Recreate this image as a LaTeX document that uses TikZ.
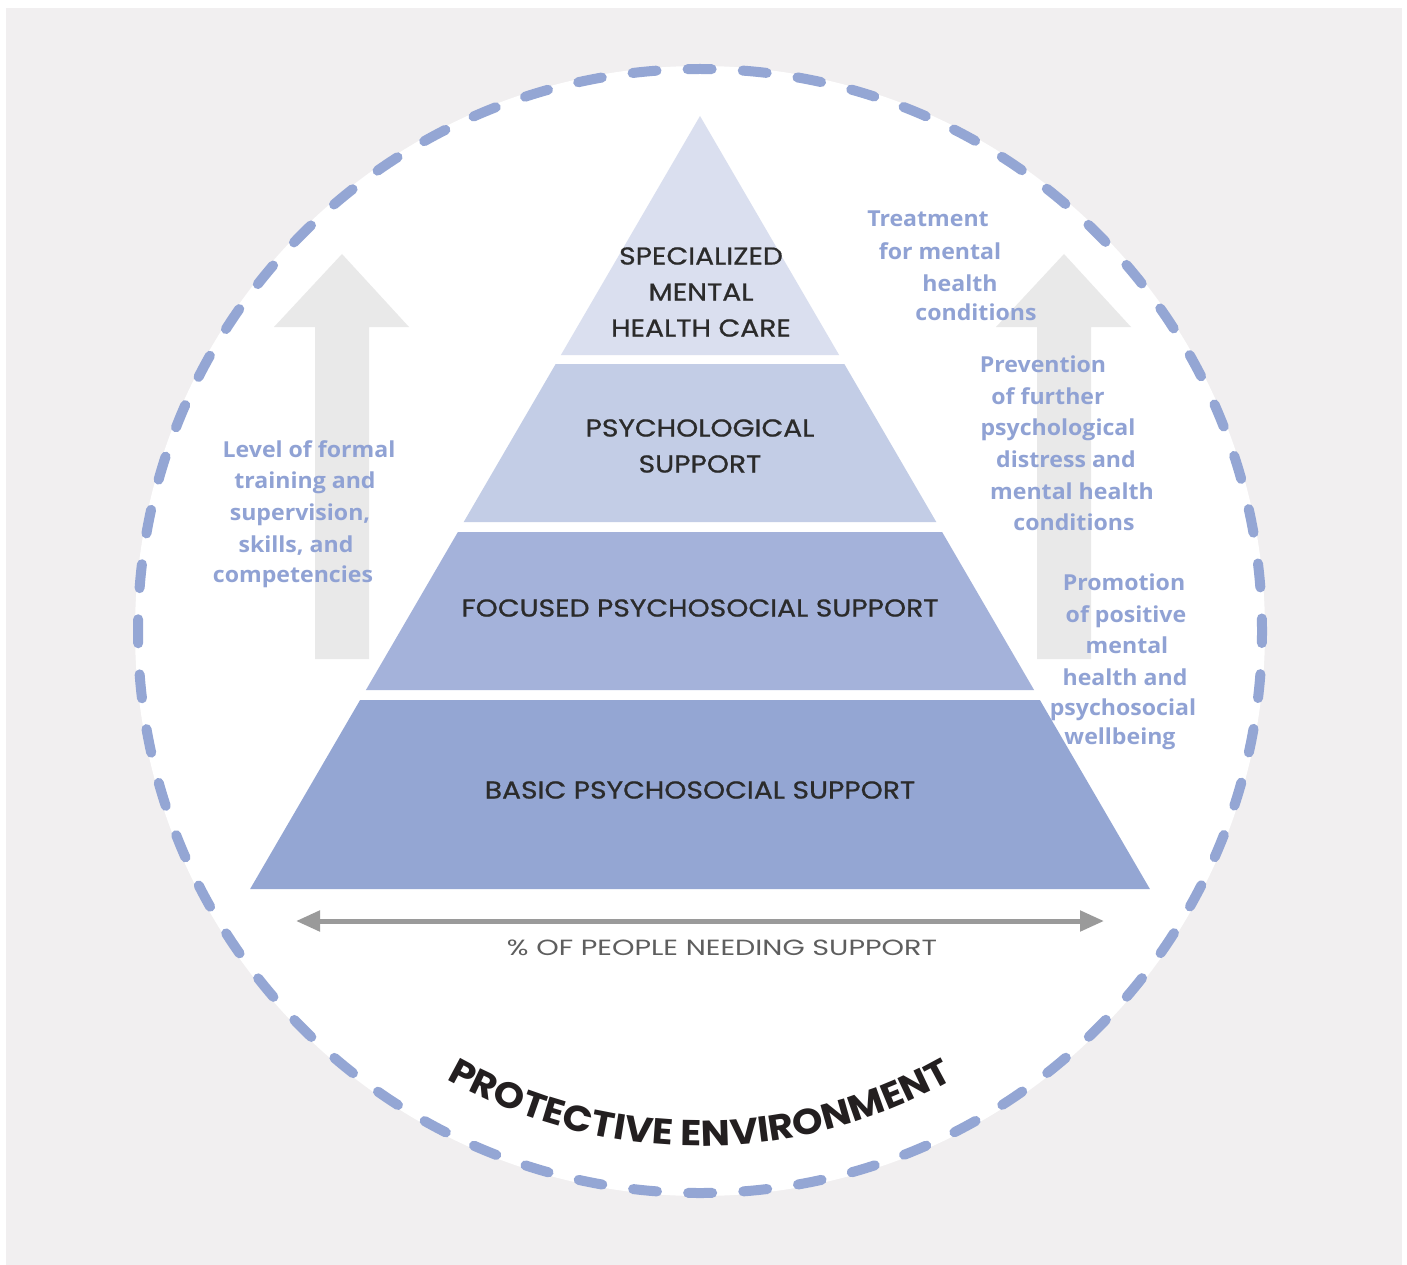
\documentclass[tikz,border=0pt]{standalone}
\usepackage{fontspec}
\setmainfont{Poppins}
\newfontfamily\levelfont{Poppins}[FakeStretch=1.15, FakeBold=0.8]
\newfontfamily\needfont{Poppins}[FakeStretch=1.3]
\newfontfamily\sidefont{Open Sans}[FakeStretch=1.05]
\newfontfamily\protfont{Poppins}[FakeStretch=1.08]
\usetikzlibrary{arrows.meta,decorations.text}

\definecolor{bggrey}{HTML}{F1EFF0}
\definecolor{ringblue}{HTML}{94A6D4}
\definecolor{tierA}{HTML}{DADFEF}
\definecolor{tierB}{HTML}{C3CDE6}
\definecolor{tierC}{HTML}{A4B2DA}
\definecolor{tierD}{HTML}{94A6D3}
\definecolor{sideblue}{HTML}{90A2D4}
\definecolor{arrowgrey}{HTML}{E9E9E9}
\definecolor{axisgrey}{HTML}{9A9A9A}
\definecolor{axistext}{HTML}{5E5E5E}
\definecolor{labeldark}{HTML}{2B2B2B}
\definecolor{protdark}{HTML}{231F20}

\begin{document}
\begin{tikzpicture}[x=1pt, y=-1pt,
  ring/.style={draw=ringblue, line width=10pt, line cap=round, dash pattern=on 24pt off 31.174pt, dash phase=12pt},
  level/.style={font=\levelfont\fontsize{24.5}{36}\selectfont, text=labeldark, align=center, inner sep=0pt},
  side/.style={font=\sidefont\bfseries\fontsize{22}{26}\selectfont, text=sideblue, anchor=base, inner sep=0pt},
  bigarrow/.style={fill=arrowgrey},
  spread/.style={draw=axisgrey, line width=5pt, {Triangle[length=24pt,width=20pt]}-{Triangle[length=24pt,width=20pt]}}]
\useasboundingbox (0,0) rectangle (1407,1265);
\fill[bggrey] (6,8) rectangle (1402,1265);
\coordinate (c) at (700,631);
\fill[white] (c) circle[radius=565];
\draw[ring] (c) circle[radius=562];

% grey arrows behind the text
\foreach \ax in {342,1064}
  \fill[bigarrow, shift={(\ax,0)}] (-27,659) -- (-27,327) -- (-68,327) -- (0,254) -- (67,327) -- (27,327) -- (27,659) -- cycle;

% pyramid, one band per level
\foreach \ya/\yb/\col in {116/355/tierA,364/522/tierB,532/690/tierC,700/889/tierD}
  \fill[\col] ({700-0.582*(\ya-116)},\ya) -- ({700+0.582*(\ya-116)},\ya) -- ({700+0.582*(\yb-116)},\yb) -- ({700-0.582*(\yb-116)},\yb) -- cycle;

\node[level] (spec) at (701,292) {SPECIALIZED\\MENTAL\\HEALTH CARE};
\node[level] (psych) at (700,446) {PSYCHOLOGICAL\\SUPPORT};
\node[level] (focus) at (700,608) {FOCUSED PSYCHOSOCIAL SUPPORT};
\node[level] (basic) at (700,790) {BASIC PSYCHOSOCIAL SUPPORT};

\coordinate (wl) at (296,921);
\coordinate (wr) at (1104,921);
\draw[spread] (wl) -- (wr);
\node[font=\needfont\fontsize{22}{24}\selectfont, text=axistext, inner sep=0pt] (need) at (722,948) {\% OF PEOPLE NEEDING SUPPORT};

\foreach \txt/\x/\y [count=\i] in {Level of formal/309/457, training and/305/488, {supervision,}/300/520, {skills, and}/296/552, competencies/293/582}
  \node[side] (train\i) at (\x,\y) {\txt};
\foreach \txt/\x/\y [count=\i] in {Treatment/928/227, for mental/940/259, health/960/291, conditions/976/320}
  \node[side] (treat\i) at (\x,\y) {\txt};
\foreach \txt/\x/\y [count=\i] in {Prevention/1043/372, of further/1048/404, psychological/1058/435, distress and/1066/467, mental health/1072/499, conditions/1074/530}
  \node[side] (prev\i) at (\x,\y) {\txt};
\foreach \txt/\x/\y [count=\i] in {Promotion/1124/590, of positive/1126/622, mental/1127/653, health and/1125/685, psychosocial/1123/715, wellbeing/1120/744}
  \node[side] (prom\i) at (\x,\y) {\txt};

\path[decorate, decoration={text along path, text align=center, text color=protdark,
  text={|\protfont\bfseries\fontsize{36}{40}\selectfont|PROTECTIVE ENVIRONMENT}}]
  (c) ++(215:515pt) arc[start angle=215, end angle=325, radius=515pt];
\end{tikzpicture}
\end{document}
